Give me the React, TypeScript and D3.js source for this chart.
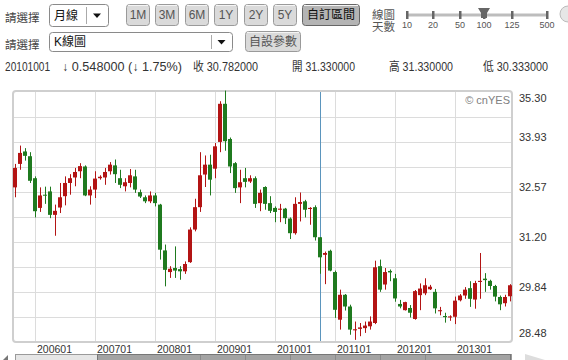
import * as d3 from 'd3'

// monthly K-line, 2005/09 .. 2013/12
const months = d3.timeMonth
  .range(new Date(2005, 8, 1), new Date(2014, 0, 1))
  .map(d3.timeFormat('%Y%m'))

const openVals = [
  32.69, 33.33, 33.67, 33.54, 32.94, 32.13, 32.49, 32.58, 31.94, 32.14,
  32.45, 32.81, 32.96, 33.13, 33.26, 32.47, 32.63, 32.94, 32.96, 33.13,
  33.29, 32.94, 32.72, 32.81, 32.99, 32.56, 32.42, 32.31, 32.47, 32.22,
  30.97, 30.38, 30.49, 30.46, 30.40, 30.65, 31.54, 32.15, 33.04, 33.31,
  33.20, 33.93, 34.97, 34.01, 33.35, 32.69, 32.94, 32.85, 32.94, 32.26,
  32.70, 32.26, 32.13, 32.08, 32.11, 31.84, 31.44, 32.24, 32.31, 32.10,
  32.15, 31.33, 30.85, 30.96, 30.38, 29.08, 29.76, 29.44, 28.79, 28.83,
  28.85, 28.90, 28.99, 30.54, 30.04, 30.41, 30.21, 29.51, 29.34, 29.40,
  29.10, 29.75, 29.80, 29.91, 29.84, 29.31, 29.18, 29.14, 29.16, 29.61,
  29.74, 29.94, 29.63, 30.11, 30.20, 30.14, 30.00, 29.70, 29.53, 29.72,
]
const closeVals = [
  33.22, 33.63, 33.55, 32.87, 32.04, 32.47, 32.48, 31.94, 32.05, 32.42,
  32.81, 32.94, 33.11, 33.27, 32.47, 32.63, 32.93, 32.98, 33.11, 33.31,
  33.05, 32.76, 32.83, 33.02, 32.63, 32.44, 32.31, 32.47, 32.26, 30.99,
  30.44, 30.47, 30.42, 30.40, 30.60, 31.54, 32.15, 33.02, 33.31, 32.90,
  33.81, 34.97, 33.95, 33.26, 32.67, 32.83, 32.84, 32.94, 32.24, 32.54,
  32.24, 32.05, 32.02, 32.11, 31.85, 31.44, 32.24, 32.29, 32.08, 32.13,
  31.33, 30.782, 30.90, 30.42, 29.35, 29.76, 29.44, 28.81, 28.82, 28.87,
  28.92, 29.03, 30.51, 29.90, 30.38, 30.37, 29.66, 29.44, 29.56, 29.27,
  29.86, 29.93, 30.02, 29.98, 29.39, 29.34, 29.15, 29.17, 29.60, 29.74,
  29.90, 29.65, 30.08, 30.14, 30.16, 30.00, 29.71, 29.50, 29.70, 30.02,
]
const highVals = [
  33.33, 33.83, 33.76, 33.65, 32.99, 32.69, 32.71, 32.71, 32.22, 32.81,
  32.99, 33.05, 33.22, 33.35, 33.29, 32.72, 33.13, 33.02, 33.22, 33.38,
  33.45, 33.17, 32.94, 33.19, 33.17, 32.63, 32.47, 32.58, 32.54, 32.24,
  31.13, 30.54, 31.08, 30.54, 30.67, 31.60, 32.38, 33.65, 33.56, 33.58,
  33.90, 35.04, 35.33, 34.05, 33.38, 33.17, 33.22, 33.02, 32.99, 32.63,
  32.72, 32.45, 32.17, 32.24, 32.13, 31.87, 32.42, 32.55, 32.35, 32.15,
  32.20, 31.33, 30.94, 30.99, 30.42, 29.90, 29.78, 29.49, 29.03, 28.99,
  29.03, 29.17, 30.69, 30.72, 30.49, 30.45, 30.33, 29.62, 29.57, 29.48,
  29.89, 30.07, 30.21, 30.03, 29.92, 29.43, 29.27, 29.20, 29.71, 29.78,
  29.97, 30.13, 30.14, 30.90, 30.35, 30.17, 30.03, 29.74, 29.76, 30.05,
]
const lowVals = [
  32.42, 33.17, 33.42, 32.81, 31.87, 32.02, 32.24, 31.85, 31.37, 31.99,
  32.20, 32.49, 32.72, 32.94, 32.45, 32.22, 32.40, 32.90, 32.76, 33.04,
  32.81, 32.67, 32.58, 32.69, 32.54, 32.40, 32.26, 32.26, 32.17, 30.72,
  29.99, 30.22, 30.22, 30.17, 30.33, 30.63, 31.49, 32.02, 32.70, 32.47,
  32.94, 33.65, 33.69, 33.08, 32.54, 32.26, 32.69, 32.81, 32.13, 32.04,
  32.08, 31.99, 31.74, 31.74, 31.69, 31.28, 31.40, 31.76, 31.87, 31.67,
  31.24, 30.333, 30.05, 30.40, 29.13, 28.81, 29.33, 28.67, 28.53, 28.63,
  28.72, 28.81, 28.96, 29.84, 29.90, 30.13, 29.57, 29.39, 29.33, 29.14,
  29.08, 29.34, 29.75, 29.89, 29.25, 29.20, 29.00, 29.05, 28.96, 29.58,
  29.65, 29.43, 29.38, 29.65, 29.84, 29.90, 29.58, 29.34, 29.44, 29.58,
]

const xTickLabels = ['200601', '200701', '200801', '200901', '201001', '201101', '201201', '201301']
const yTickLabels = [35.30, 33.93, 32.57, 31.20, 29.84, 28.48]
const selectedMonth = '201010'

const periodButtons = ['1M', '3M', '6M', '1Y', '2Y', '5Y']
const periodX = [126, 155, 185, 214, 244, 273]
const dayLabels = ['10', '20', '50', '100', '125', '500']
const dayX = [407, 433, 460, 484, 512, 547]

const FONT = "'Liberation Sans', Arial, 'Noto Sans CJK TC', sans-serif"
const UP = '#b31414'
const DOWN = '#1f7a1f'

const Button = ({ x, y, w, h, label, dark }: any) => (
  <g>
    <rect x={x + 0.5} y={y + 0.5} width={w} height={h} rx={3}
      fill={dark ? '#b4b4b4' : '#dadada'} stroke={dark ? '#666' : '#9a9a9a'} />
    <line x1={x + 2} x2={x + w - 1} y1={y + 1.5} y2={y + 1.5} stroke="#f4f4f4" />
    <text x={x + w / 2 + 0.5} y={y + h / 2 + 4.5} textAnchor="middle" fontSize={12}
      fill={dark ? '#111' : '#555'}>{label}</text>
  </g>
)

const Dropdown = ({ x, y, w, h, label, divX }: any) => (
  <g>
    <rect x={x + 0.5} y={y + 0.5} width={w} height={h} rx={3} fill="#fff" stroke="#8a8a8a" />
    <line x1={divX + 0.5} x2={divX + 0.5} y1={y + 3} y2={y + h - 2} stroke="#aaa" />
    <path d={`M${(divX + x + w) / 2 - 4},${y + h / 2 - 1.5} h8 l-4,4.5 z`} fill="#111" />
    <text x={x + 5} y={y + h / 2 + 4.5} fontSize={12} fill="#111">{label}</text>
  </g>
)

export default function App() {
  const width = 568
  const height = 360

  const x = d3.scaleBand<string>().domain(months).range([12.5, 512.5])
  const y = d3.scaleLinear().domain([28.48, 35.30]).range([341.7, 91.7])
  const cx = (m: string) => (x(m) as number) + x.bandwidth() / 2

  const [lo, hi] = y.domain()
  const gridY = d3.range(11).map(k => Math.round(y(lo + (k * (hi - lo)) / 10)) + 0.5)

  const candles = months.map((m, i) => ({
    m, o: openVals[i], c: closeVals[i], h: highVals[i], l: lowVals[i],
  }))

  return (
    <svg width={width} height={height} style={{ position: 'absolute', left: 0, top: 0, background: '#fff' }}
      fontFamily={FONT}>
      {/* toolbar row 1 */}
      <text x={5} y={22} fontSize={11.5} fill="#444">請選擇</text>
      <Dropdown x={49} y={4} w={59} h={22} label="月線" divX={86} />
      {periodButtons.map((b, i) => (
        <Button key={b} x={periodX[i]} y={4} w={23} h={21} label={b} />
      ))}
      <Button x={302} y={4} w={57} h={21} label="自訂區間" dark />

      {/* day slider */}
      <text x={372} y={19} fontSize={11.5} fill="#555">線圖</text>
      <text x={372} y={31} fontSize={11.5} fill="#555">天數</text>
      <line x1={dayX[0]} x2={dayX[dayX.length - 1]} y1={15} y2={15} stroke="#bdbdbd" strokeWidth={3} />
      {dayX.map((dx, i) => (
        <g key={i}>
          <rect x={dx - 1} y={11} width={2.5} height={8} fill="#666" />
          <text x={dx} y={28} fontSize={9} textAnchor="middle" fill="#555">{dayLabels[i]}</text>
        </g>
      ))}
      <path d={`M${dayX[3] - 6},8 h12 l-3,5 v5 h-6 v-5 z`} fill="#666" />
      <circle cx={568} cy={14} r={8} fill="#e6e6e6" stroke="#bbb" />

      {/* toolbar row 2 */}
      <text x={5} y={49} fontSize={11.5} fill="#444">請選擇</text>
      <Dropdown x={49} y={32} w={183} h={19} label="K線圖" divX={211} />
      <Button x={245} y={31} w={55} h={20} label="自設參數" />

      {/* info line */}
      <g fontSize={12} fill="#333">
        <text x={5} y={71} textLength={45} lengthAdjust="spacingAndGlyphs">20101001</text>
        <text x={62} y={71} textLength={120} lengthAdjust="spacingAndGlyphs">↓ 0.548000 (↓ 1.75%)</text>
        <text x={193} y={71} textLength={65} lengthAdjust="spacingAndGlyphs">收 30.782000</text>
        <text x={292} y={71} textLength={63} lengthAdjust="spacingAndGlyphs">開 31.330000</text>
        <text x={389} y={71} textLength={64} lengthAdjust="spacingAndGlyphs">高 31.330000</text>
        <text x={483} y={71} textLength={65} lengthAdjust="spacingAndGlyphs">低 30.333000</text>
      </g>

      {/* plot panel */}
      <rect x={13} y={91} width={499} height={251} rx={3} fill="#fff" stroke="#cfcfcf" strokeWidth={2} />
      {gridY.slice(1, -1).map((gy, i) => (
        <line key={i} x1={14} x2={511} y1={gy} y2={gy} stroke="#dcdcdc" />
      ))}
      {xTickLabels.map(t => {
        const gx = Math.floor(cx(t)) + 0.5
        return <line key={t} x1={gx} x2={gx} y1={92} y2={341} stroke="#dcdcdc" />
      })}
      <line x1={Math.floor(cx(selectedMonth)) + 0.5} x2={Math.floor(cx(selectedMonth)) + 0.5}
        y1={92} y2={341} stroke="#5b95bd" />

      {candles.map(d => {
        const up = d.c >= d.o
        const col = up ? UP : DOWN
        const wx = Math.floor(cx(d.m)) + 0.5
        const top = y(Math.max(d.o, d.c))
        const bh = Math.max(1, Math.abs(y(d.o) - y(d.c)))
        return (
          <g key={d.m}>
            <line x1={wx} x2={wx} y1={y(d.h)} y2={y(d.l)} stroke={col} />
            <rect x={(x(d.m) as number) + 0.5} y={top} width={4} height={bh} fill={col} />
          </g>
        )
      })}

      <text x={510} y={104} fontSize={11} textAnchor="end" fill="#808080">© cnYES</text>

      {/* y labels */}
      {yTickLabels.map(v => {
        const c = Math.min(333, Math.max(98, y(v) - 5))
        return (
          <text key={v} x={519} y={c + 4} fontSize={11} fill="#333">{v.toFixed(2)}</text>
        )
      })}

      {/* x labels */}
      {xTickLabels.map(t => (
        <text key={t} x={Math.floor(cx(t)) + 2} y={353} fontSize={10.5} fill="#333">{t}</text>
      ))}

      {/* navigator */}
      <rect x={15.5} y={354.5} width={496} height={8} fill="#e6e6e6" stroke="#9a9a9a" />
      <rect x={97.5} y={354.5} width={413} height={8} fill="#a3a3a3" stroke="#777" />
      {d3.range(6).map(k => (
        <line key={k} x1={200.5 + k * 45} x2={200.5 + k * 45} y1={355} y2={360} stroke="#8a8a8a" />
      ))}
      <path d="M3,360 l5,-5 v5 z" fill="#777" />
      <path d="M525,354 l20,6 h-20 z" fill="#ddd" />
    </svg>
  )
}
